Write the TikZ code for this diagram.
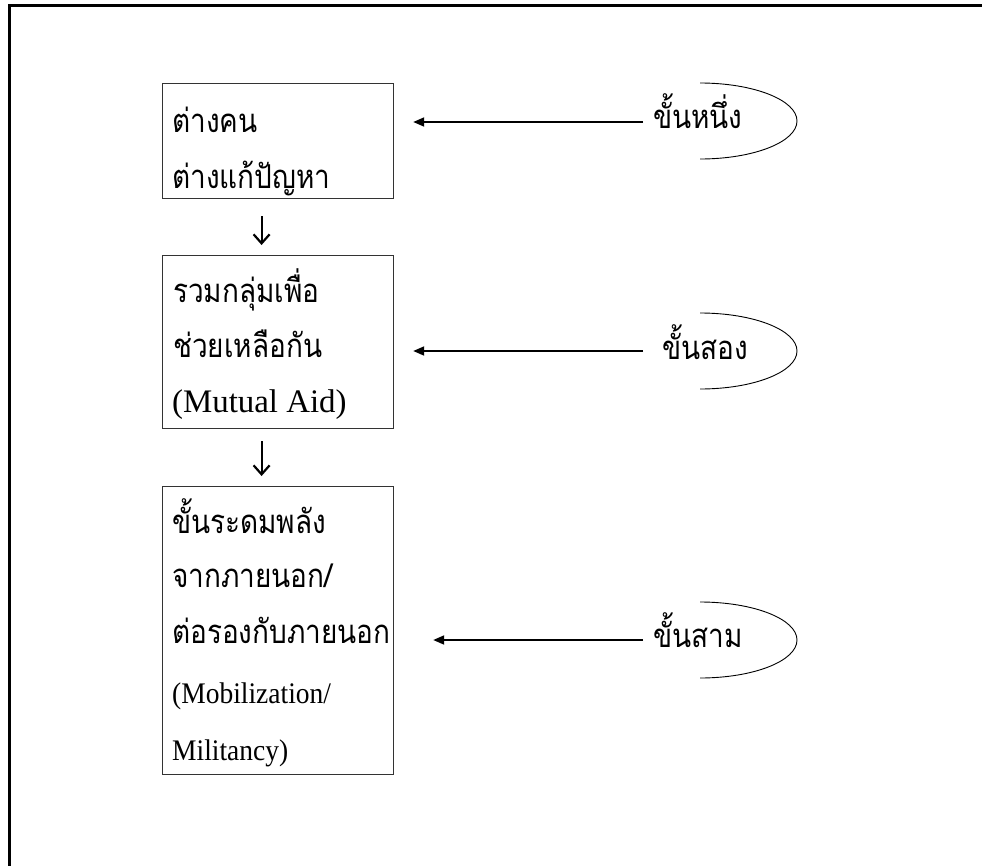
\documentclass[tikz,border=0pt]{standalone}
\usepackage{fontspec}
\setmainfont{Liberation Serif}
\newfontfamily\thaifont[Script=Thai,FakeStretch=0.85]{Loma}
\newfontfamily\narrowserif[FakeStretch=0.92]{Liberation Serif}
\usetikzlibrary{arrows.meta}

\begin{document}
\begin{tikzpicture}[x=1bp,y=-1bp,
  stagebox/.style={draw=black!80, line width=1.2bp, minimum width=231bp,
    minimum height=#1, inner sep=0pt, anchor=north west},
  latinline/.style={anchor=base west, inner sep=0pt,
    font=\fontsize{33}{38}\selectfont},
  smallline/.style={anchor=base west, inner sep=0pt,
    font=\narrowserif\fontsize{30}{34}\selectfont},
  thailine/.style={anchor=base west, inner sep=0pt,
    font=\thaifont\fontsize{33}{38}\selectfont},
  stepdown/.style={line width=2.2bp, -{Straight Barb[length=9bp,width=16bp]},
    shorten <=#1, shorten >=10bp},
  stepin/.style={line width=1.8bp, -{Triangle[length=11bp,width=9bp]}},
  halfring/.style={line width=0.9bp},
]
\useasboundingbox (0,0) rectangle (982,866);
\begin{scope}
\clip (0,0) rectangle (982,866);
% outer frame, running off the right and bottom edges
\draw[line width=3bp] (9,880) |- (1000,5.5);
\end{scope}

% stage boxes
\node[stagebox=115bp] (b1) at (162,83) {};
\node[stagebox=173bp] (b2) at (162,255) {};
\node[stagebox=288bp] (b3) at (162,486) {};

% box 1 text
\node[thailine] (t11) at (172,132) {ต่างคน};
\node[thailine] (t12) at (172,188) {ต่างแก้ปัญหา};
% box 2 text
\node[thailine] (t21) at (173,302) {รวมกลุ่มเพื่อ};
\node[thailine] (t22) at (173,357) {ช่วยเหลือกัน};
\node[latinline] (t23) at (172,412) {(Mutual Aid)};
% box 3 text
\node[thailine] (t31) at (172,533) {ขั้นระดมพลัง};
\node[thailine] (t32) at (172,587) {จากภายนอก/};
\node[thailine] (t33) at (172,643) {ต่อรองกับภายนอก};
\node[smallline] (t34) at (172,703) {(Mobilization/};
\node[smallline] (t35) at (172,760) {Militancy)};

% downward steps between boxes
\draw[stepdown=17bp] ([xshift=-16.5bp]b1.south) -- ([xshift=-16.5bp]b2.north);
\draw[stepdown=12bp] ([xshift=-16.5bp]b2.south) -- ([xshift=-16.5bp]b3.north);

% stage labels
\node[thailine] (s1) at (653,128) {ขั้นหนึ่ง};
\node[thailine] (s2) at (662,359) {ขั้นสอง};
\node[thailine] (s3) at (653,647) {ขั้นสาม};

% arrow starts beside each label
\coordinate (a1) at (643,122);
\coordinate (a2) at (643,351);
\coordinate (a3) at (643,640);
\draw[stepin, shorten >=19bp] (a1) -- (a1 -| b1.east);
\draw[stepin, shorten >=19bp] (a2) -- (a2 -| b2.east);
\draw[stepin, shorten >=39bp] (a3) -- (a3 -| b3.east);

% half rings closing each label on the right
\foreach \c/\cy in {r1/121, r2/351, r3/640} {
  \coordinate (\c) at (700,\cy);
  \draw[halfring] ([yshift=38bp]\c)
    .. controls +(53.5bp,0) and +(0,21bp) .. ([xshift=97bp]\c)
    .. controls +(0,-21bp) and +(53.5bp,0) .. ([yshift=-38bp]\c);
}
\end{tikzpicture}
\end{document}
